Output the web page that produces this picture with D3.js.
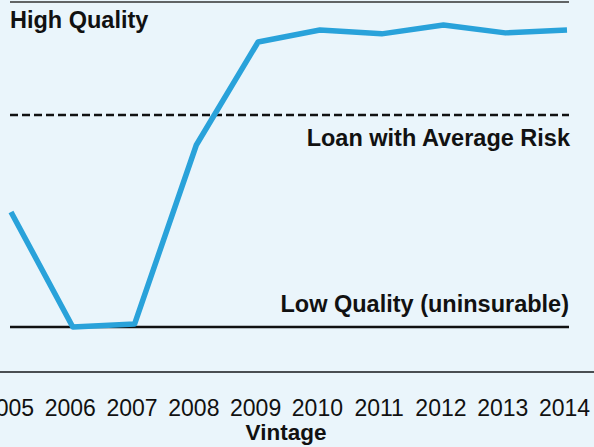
<!DOCTYPE html>
<html>
<head>
<meta charset="utf-8">
<script src="https://cdn.jsdelivr.net/npm/d3@7"></script>
<style>
  body { margin: 0; background: #eaf5fb; }
  svg { display: block; font-family: "Liberation Sans", Arial, sans-serif; }
</style>
</head>
<body>
<div class="chart"></div>
<script>
// vintages and quality score (0 = low quality, 100 = high quality)
const years = ["2005", "2006", "2007", "2008", "2009", "2010", "2011", "2012", "2013", "2014"];
const quality = [35.4, 0, 0.9, 56, 87.7, 91.4, 90.2, 92.9, 90.5, 91.4];

const levelNames = ["High Quality", "Loan with Average Risk", "Low Quality (uninsurable)"];
const levelValues = [100, 65.2, 0];

const w = 594;
const h = 447;

const xScale = d3.scalePoint()
  .domain(years)
  .range([11, 567]);

const yScale = d3.scaleLinear()
  .domain([0, 100])
  .range([327, 2]);

const svg = d3.select(".chart")
  .append("svg")
  .attr("width", w)
  .attr("height", h);

svg.append("rect")
  .attr("width", w)
  .attr("height", h)
  .attr("fill", "#eaf5fb");

// reference levels
svg.selectAll("line.level")
  .data(levelValues)
  .enter()
  .append("line")
  .attr("class", "level")
  .attr("x1", 10)
  .attr("x2", 569)
  .attr("y1", d => yScale(d))
  .attr("y2", d => yScale(d))
  .attr("stroke", (d, i) => i == 0 ? "#333" : "#111")
  .attr("stroke-width", (d, i) => i == 0 ? 1.5 : 2.5)
  .attr("stroke-dasharray", (d, i) => i == 1 ? "8,4" : null);

svg.append("text")
  .attr("x", 10)
  .attr("y", yScale(levelValues[0]) + 26)
  .attr("font-size", 23.5)
  .attr("font-weight", "bold")
  .attr("fill", "#111")
  .text(levelNames[0]);

svg.append("text")
  .attr("x", 570)
  .attr("y", yScale(levelValues[1]) + 31)
  .attr("text-anchor", "end")
  .attr("font-size", 23.5)
  .attr("font-weight", "bold")
  .attr("fill", "#111")
  .text(levelNames[1]);

svg.append("text")
  .attr("x", 569)
  .attr("y", yScale(levelValues[2]) - 15)
  .attr("text-anchor", "end")
  .attr("font-size", 23.5)
  .attr("font-weight", "bold")
  .attr("fill", "#111")
  .text(levelNames[2]);

// the series
const line = d3.line()
  .x((d, i) => xScale(years[i]))
  .y(d => yScale(d));

svg.append("path")
  .datum(quality)
  .attr("d", line)
  .attr("fill", "none")
  .attr("stroke", "#29a2da")
  .attr("stroke-width", 5.5)
  .attr("stroke-linejoin", "round");

// x axis
const xAxis = d3.axisBottom(xScale).tickSize(0).tickPadding(0);
const gx = svg.append("g")
  .attr("transform", "translate(0,372)")
  .call(xAxis);

gx.select(".domain").remove();
svg.append("line")
  .attr("x1", 0)
  .attr("x2", w)
  .attr("y1", 372)
  .attr("y2", 372)
  .attr("stroke", "#4a4f52")
  .attr("stroke-width", 2);

gx.selectAll("text")
  .attr("font-size", 23)
  .attr("font-family", "Liberation Sans, Arial, sans-serif")
  .attr("fill", "#111")
  .attr("dy", 0)
  .attr("y", 44)
  .attr("dx", -3);

svg.append("text")
  .attr("x", 286)
  .attr("y", 440)
  .attr("text-anchor", "middle")
  .attr("font-size", 22.5)
  .attr("font-weight", "bold")
  .attr("fill", "#111")
  .text("Vintage");
</script>
</body>
</html>
